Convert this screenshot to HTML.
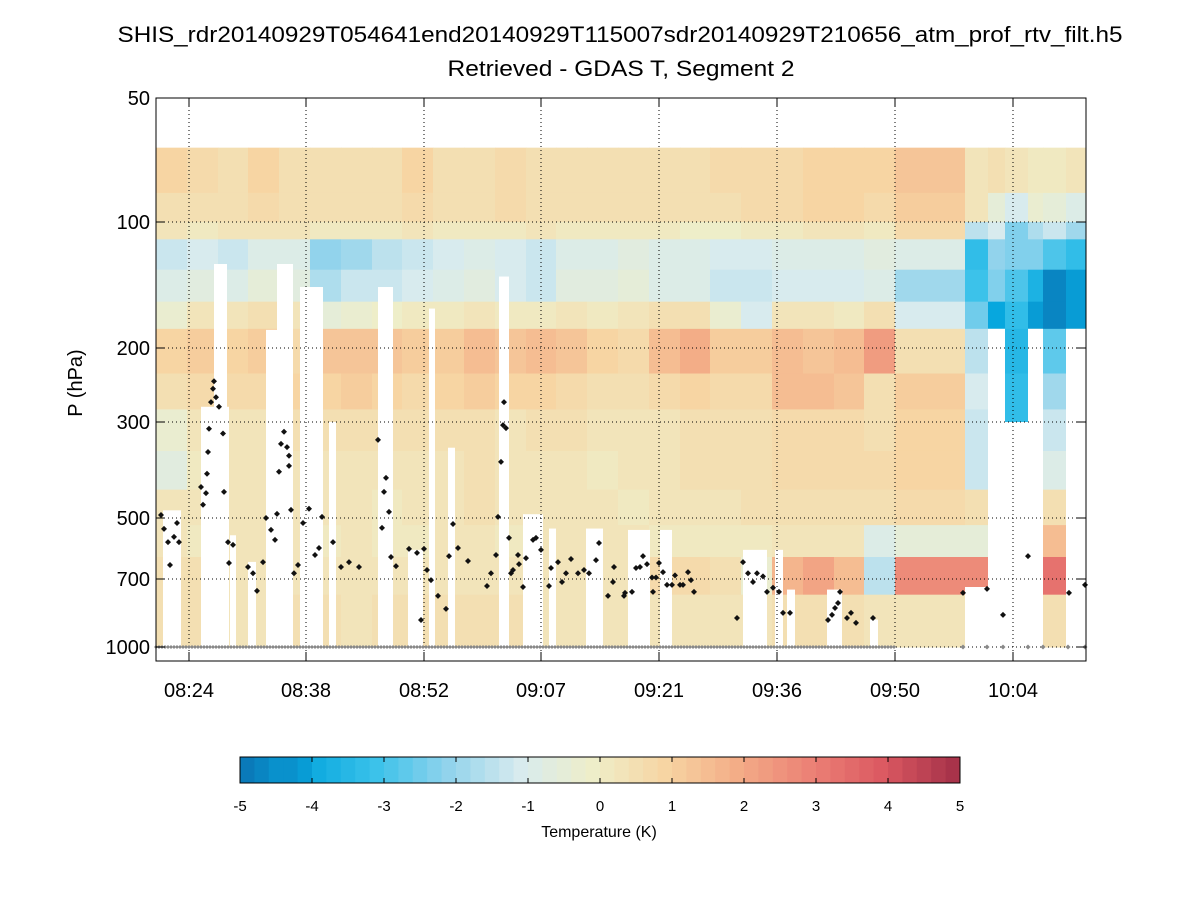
<!DOCTYPE html>
<html><head><meta charset="utf-8"><style>
body{margin:0;background:#fff;font-family:"Liberation Sans",sans-serif;}
svg text{font-family:"Liberation Sans",sans-serif;}
</style></head><body>
<svg id="chart" width="1200" height="900" viewBox="0 0 1200 900" xmlns="http://www.w3.org/2000/svg">
<rect x="0" y="0" width="1200" height="900" fill="#fff"/>
<text x="620" y="42" font-size="22" text-anchor="middle" textLength="1005" lengthAdjust="spacingAndGlyphs">SHIS_rdr20140929T054641end20140929T115007sdr20140929T210656_atm_prof_rtv_filt.h5</text>
<text x="621" y="76" font-size="22" text-anchor="middle" textLength="347" lengthAdjust="spacingAndGlyphs">Retrieved - GDAS T, Segment 2</text>
<text x="82" y="383" font-size="20" text-anchor="middle" transform="rotate(-90 82 383)">P (hPa)</text>
<g id="heat"></g>
<g id="gaps"></g>
<g id="grid"></g>
<g id="pts"></g>
<g id="axes"></g>
<g id="cbar"></g>
<text x="599" y="837" font-size="16" text-anchor="middle">Temperature (K)</text>
</svg>
<script>
// ---- data ----
const xTickVals = [33,150,268,385,503,621,739,857];
const xTickLabels = ["08:24","08:38","08:52","09:07","09:21","09:36","09:50","10:04"];
const yTickVals = [50,100,200,300,500,700,1000];
const yTickLabels = ["50","100","200","300","500","700","1000"];
const cbTicks = [-5,-4,-3,-2,-1,0,1,2,3,4,5];
const colStart = [0,31,62,92,123,154,185,216,246,277,308,339,370,400,431,462,493,524,554,585,616,647,678,708,739,809,832,849,872,887,910];
const colEndLast = 930;
const levels = [66,85,100,110,130,155,180,230,280,350,430,520,620,760,1000];
const c00=[.9,.6,.3,-1.3,-.8,-.2,.9,.5,-.3,-.6,.3,.3,.5,.6];
const c01=[.7,.6,.2,-1,-.7,.3,1.2,.7,.3,.2,.3,.2,.5,.5];
const c02=[.5,.5,.3,-1.2,-.8,.3,1,.8,.4,.3,.3,.3,.4,.4];
const c03=[.9,.8,.3,-.8,-.5,.5,1.1,.8,.4,.3,.3,.3,.4,.4];
const c04=[.6,.6,.3,-.9,-.6,.3,.8,.9,.5,.4,.3,.3,.4,.5];
const c05=[.5,.5,.2,-2,-1.6,-.5,1.3,1,.6,.3,.3,.2,.4,.5];
const c06=[.5,.6,.2,-1.9,-1.3,-.3,1.4,1.2,.6,.3,.3,.3,.4,.4];
const c07=[.6,.6,.2,-1.4,-1.2,0,1.3,.9,.5,.3,.2,.2,.3,.5];
const c08=[.9,.8,.3,-1.2,-1,.1,1.2,.7,.5,.3,.3,.2,.3,.5];
const c09=[.5,.5,.2,-1,-.9,.2,1.2,.9,.5,.3,.4,.3,.3,.5];
const c10=[.6,.5,.2,-.8,-.7,.3,1.5,1.2,.5,.5,.6,.4,.3,.5];
const c11=[.8,.7,.2,-1.1,-1,.1,1.3,.9,.4,.3,.3,.2,.3,.5];
const c12=[.6,.6,.3,-1.2,-1.2,.2,1.5,1,.5,.3,.3,.3,.3,.4];
const c13=[.6,.5,.2,-.9,-.7,.3,1.4,.8,.5,.4,.3,.3,.3,.4];
const c14=[.5,.5,.1,-.8,-.6,.1,.9,.6,.3,.2,.3,.3,.3,.4];
const c15=[.6,.6,.2,-.7,-.5,.3,.8,.6,.4,.3,.2,.3,.3,.4];
const c16=[.6,.6,.1,-.8,-.8,.5,1.6,.8,.4,.4,.4,.2,.7,.4];
const c17=[.5,.5,0,-.8,-.9,.6,1.9,1,.5,.5,.4,.1,.7,.4];
const c18=[.7,.6,0,-1.1,-1.2,-.3,1.1,.7,.5,.5,.4,.2,.5,.3];
const c19=[.8,.7,.1,-1.1,-1.3,-1,1.2,.8,.6,.6,.5,.2,-.2,.4];
const c20=[.8,.8,.2,-.8,-1,.3,1.5,1.6,.8,.7,.5,.4,1.8,.5];
const c21=[1,.9,.3,-.8,-1.1,.3,1.4,1.6,.7,.7,.5,.3,2.1,.5];
const c22=[1,.9,.3,-.8,-1,.2,1.6,1.4,.8,.7,.5,.4,1.5,.5];
const c23=[.9,.8,.2,-.6,-.9,.5,2.3,.5,.6,.7,.6,-.9,-1.5,.4];
const c24=[1.3,1.2,.7,-.9,-1.8,-1,.6,1.1,1,1,.7,-.5,2.8,.3];
const c25=[.4,.4,-1.5,-3.2,-3,-2.5,-1.5,-1,-1.3,-1.2,.5,-.5,2.8,0];
const c26=[.5,-.5,-1,-2,-2.3,-4,0,0,0,0,0,0,0,0];
const c27=[.4,-1,-2.2,-2.3,-2.8,-3.3,-3.5,-3.3,-3.3,0,0,0,0,0];
const c28=[.1,-.3,-1.6,-2.2,-3.6,-4.2,0,0,0,0,0,0,0,0];
const c29=[.1,-.5,-1.2,-2.8,-4.6,-4.6,-2.7,-1.8,-1.2,-.8,.5,1.5,3.3,.5];
const c30=[.3,-.8,-1.8,-3.2,-4.2,-4.3,0,0,0,0,0,0,0,0];
const columns=[c00,c01,c02,c03,c04,c05,c06,c07,c08,c09,c10,c11,c12,c13,c14,c15,c16,c17,c18,c19,c20,c21,c22,c23,c24,c25,c26,c27,c28,c29,c30];
const gapStart=[7,45,58,74,92,110,121,144,173,222,252,273,292,343,367,393,430,472,504,587,619,631,671,714,809,832,849,872,910];
const gapEnd  =[25,73,71,80,100,137,137,167,180,237,267,279,299,353,387,400,447,494,516,611,627,639,686,722,832,849,872,887,930];
const gapTopP =[480,276,126,550,637,181,126,143,300,143,596,161,344,135,490,530,530,534,534,596,596,740,740,866,730,180,300,180,180];
const cloudIdx=[5,8,12,14,18,21,23,45,47,50,51,52,53,55,57,58,60,63,67,68,72,73,77,92,97,101,107,110,115,119,121,123,125,128,131,133,133,135,138,142,147,153,159,163,166,177,185,193,203,222,226,228,230,233,235,240,253,261,265,268,271,275,282,290,293,297,302,312,331,335,340,342,345,347,348,350,353,355,357,362,363,367,370,377,380,385,393,395,402,406,410,415,422,428,433,440,443,452,457,458,468,469,476,480,484,487,491,496,497,500,503,507,511,516,519,524,527,532,535,538,581,587,592,597,601,607,611,617,623,627,634,672,676,679,682,684,691,695,700,717,807,831,847,872,913,929];
const cloudP=[492,531,571,648,555,514,571,424,466,438,395,352,311,269,250,240,262,276,319,435,571,641,580,655,678,745,638,500,534,564,489,391,337,316,343,359,379,479,678,648,514,476,613,590,497,571,655,638,655,330,528,435,404,484,620,652,593,606,868,593,666,704,765,819,617,517,590,634,726,678,613,497,371,305,269,310,558,678,666,613,645,730,624,564,558,596,726,659,638,711,678,627,678,666,678,631,574,765,711,655,765,753,749,659,655,617,645,694,749,694,641,674,722,722,686,722,722,674,704,749,859,638,678,711,678,690,749,733,749,836,836,868,845,815,794,749,859,836,881,859,753,737,845,617,753,722];
const groundFrom=0, groundTo=739, groundStep=3;
const groundSparse=[807,831,847,872,887,912,929];
const groundP=1000;

// ---- scales ----
const X0=156,X1=1086,Y0=98,Y1=661;
function xs(i){return X0+(i-0)*(X1-X0)/930;}
const yKnotP=[50,100,200,300,500,700,1000];
const yKnotY=[98,222,348,422,518,579,647];
function ys(p){
  let k=0; while(k<yKnotP.length-2 && p>yKnotP[k+1]) k++;
  const a=Math.log(yKnotP[k]),b=Math.log(yKnotP[k+1]);
  return yKnotY[k]+(Math.log(p)-a)/(b-a)*(yKnotY[k+1]-yKnotY[k]);
}
const stops=[[-5,[11,111,176]],[-4,[7,167,222]],[-3,[60,194,234]],[-2,[146,211,236]],[-1,[216,235,238]],[0,[238,238,201]],[1,[247,213,163]],[2,[243,173,135]],[3,[236,130,118]],[4,[220,90,98]],[5,[168,51,74]]];
function cmap(v){
  v=Math.max(-5,Math.min(5,v)); v=Math.round(v*5)/5;
  let k=0; while(k<stops.length-2 && v>stops[k+1][0]) k++;
  const t=(v-stops[k][0])/(stops[k+1][0]-stops[k][0]);
  const c=stops[k][1].map((a,j)=>Math.round(a+(stops[k+1][1][j]-a)*t));
  return `rgb(${c[0]},${c[1]},${c[2]})`;
}
const NS="http://www.w3.org/2000/svg";
function mk(tag,attrs,parent){const e=document.createElementNS(NS,tag);for(const k in attrs)e.setAttribute(k,attrs[k]);parent.appendChild(e);return e;}

// heatmap
const heat=document.getElementById('heat');
columns.forEach((col,ci)=>{
  const a=colStart[ci], b=ci+1<colStart.length?colStart[ci+1]:colEndLast;
  col.forEach((v,ri)=>{
    const y0=ys(levels[ri]), y1=ys(levels[ri+1]);
    const r=mk('rect',{x:xs(a),y:y0,width:xs(b)-xs(a)+0.5,height:y1-y0+0.5,fill:cmap(v)},heat);
    
    
  });
});
// gaps
const gaps=document.getElementById('gaps');
gapStart.forEach((s,i)=>{
  const y0=ys(gapTopP[i]);
  const r=mk('rect',{x:xs(s),y:y0,width:xs(gapEnd[i])-xs(s),height:ys(1000)-y0+1,fill:'#fff'},gaps);
  
  
});
// grid
const grid=document.getElementById('grid');
xTickVals.forEach(v=>{mk('line',{x1:xs(v),x2:xs(v),y1:Y0,y2:Y1,stroke:'#000','stroke-width':1,'stroke-dasharray':'1 3'},grid);});
yTickVals.forEach(v=>{mk('line',{x1:X0,x2:X1,y1:ys(v),y2:ys(v),stroke:'#000','stroke-width':1,'stroke-dasharray':'1 3'},grid);});
// points
const pts=document.getElementById('pts');
function diamond(x,y,r,fill,name){
  const p=mk('path',{d:`M${x} ${y-r}L${x+r} ${y}L${x} ${y+r}L${x-r} ${y}Z`,fill:fill},pts);
  
  
}
for(let i=groundFrom;i<=groundTo;i+=groundStep) diamond(xs(i),ys(groundP),2,'#888','surface-point');
groundSparse.forEach(i=>diamond(xs(i),ys(groundP),2.5,'#888','surface-point'));
cloudIdx.forEach((i,k)=>diamond(xs(i),ys(cloudP[k]),3,'#111','cloud-top-point'));
// axes
const ax=document.getElementById('axes');
mk('rect',{x:X0,y:Y0,width:X1-X0,height:Y1-Y0,fill:'none',stroke:'#000','stroke-width':1},ax);
xTickVals.forEach((v,i)=>{
  mk('line',{x1:xs(v),x2:xs(v),y1:Y1,y2:Y1-9,stroke:'#000'},ax);
  mk('line',{x1:xs(v),x2:xs(v),y1:Y0,y2:Y0+9,stroke:'#000'},ax);
  const t=mk('text',{x:xs(v),y:Y1+36,'font-size':20,'text-anchor':'middle'},ax);t.textContent=xTickLabels[i];
  
  
});
yTickVals.forEach((v,i)=>{
  mk('line',{x1:X0,x2:X0+9,y1:ys(v),y2:ys(v),stroke:'#000'},ax);
  mk('line',{x1:X1,x2:X1-9,y1:ys(v),y2:ys(v),stroke:'#000'},ax);
  const t=mk('text',{x:X0-6,y:ys(v)+7,'font-size':20,'text-anchor':'end'},ax);t.textContent=yTickLabels[i];
  
  
});
// colorbar
const cb=document.getElementById('cbar');
const CB0=240,CB1=960,CBT=757,CBB=783;
for(let k=0;k<50;k++){
  const v=-5+k*0.2+0.1;
  mk('rect',{x:CB0+k*(CB1-CB0)/50,y:CBT,width:(CB1-CB0)/50+0.5,height:CBB-CBT,fill:cmap(v)},cb);
}
mk('rect',{x:CB0,y:CBT,width:CB1-CB0,height:CBB-CBT,fill:'none',stroke:'#000'},cb);
cbTicks.forEach(v=>{
  const x=CB0+(v+5)/10*(CB1-CB0);
  mk('line',{x1:x,x2:x,y1:CBT,y2:CBT+5,stroke:'#000'},cb);
  mk('line',{x1:x,x2:x,y1:CBB,y2:CBB-5,stroke:'#000'},cb);
  const t=mk('text',{x:x,y:811,'font-size':15,'text-anchor':'middle'},cb);t.textContent=String(v);
  
  
});
</script>
</body></html>
